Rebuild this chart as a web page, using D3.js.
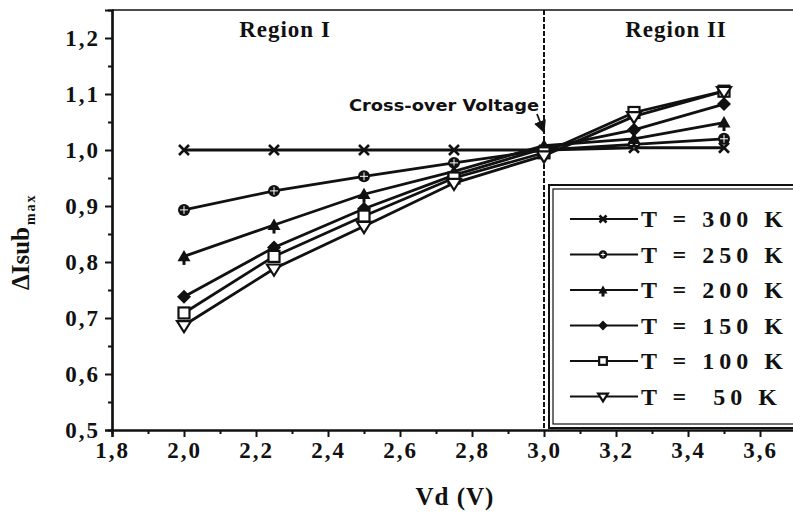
<!DOCTYPE html>
<html><head><meta charset="utf-8">
<script src="https://cdn.jsdelivr.net/npm/d3@7"></script>
<style>body{margin:0;background:#fff}svg{display:block}
.sf{font-family:"Liberation Serif","Times New Roman",Times,serif;font-weight:bold}
</style>
</head><body>
<svg id="c" width="793" height="516"></svg>
<script>
// ---- data ----
const vd = [2.0, 2.25, 2.5, 2.75, 3.0, 3.25, 3.5];
const t300 = [1.000, 1.000, 1.000, 1.000, 1.000, 1.004, 1.004];
const t250 = [0.893, 0.927, 0.953, 0.977, 1.000, 1.010, 1.020];
const t200 = [0.810, 0.866, 0.921, 0.962, 1.008, 1.020, 1.049];
const t150 = [0.738, 0.826, 0.895, 0.955, 1.003, 1.036, 1.082];
const t100 = [0.709, 0.810, 0.882, 0.950, 0.995, 1.067, 1.105];
const t50  = [0.687, 0.788, 0.864, 0.941, 0.990, 1.060, 1.105];
const seriesLabels = ["T = 300 K", "T = 250 K", "T = 200 K", "T = 150 K", "T = 100 K", "T =  50 K"];
const seriesValues = [t300, t250, t200, t150, t100, t50];
const markerTypes = ["x", "circleplus", "triup", "diamond", "square", "tridown"];
const xTicks = [1.8, 2.0, 2.2, 2.4, 2.6, 2.8, 3.0, 3.2, 3.4, 3.6];
const yTicks = [0.5, 0.6, 0.7, 0.8, 0.9, 1.0, 1.1, 1.2];

const svg = d3.select("#c");
const L = 112, R = 796, T = 10, B = 430;
const x = d3.scaleLinear().domain([1.8, 3.7]).range([L, R]);
const y = d3.scaleLinear().domain([0.5, 1.25]).range([B, T]);
const fmt = d => d.toFixed(1).replace(".", ",");

// frame top line
svg.append("line").attr("x1", L).attr("x2", R).attr("y1", T).attr("y2", T)
  .attr("stroke", "#111").attr("stroke-width", 1.5);

// axes
const xAxis = svg.append("g").attr("transform", `translate(0,${B})`)
  .call(d3.axisBottom(x).tickValues(xTicks).tickFormat(fmt).tickSize(7).tickPadding(5));
const xMinor = svg.append("g").attr("transform", `translate(0,${B})`)
  .call(d3.axisBottom(x).tickValues(d3.range(1.9, 3.7, 0.2)).tickFormat("").tickSize(4));
const yAxis = svg.append("g").attr("transform", `translate(${L},0)`)
  .call(d3.axisLeft(y).tickValues(yTicks).tickFormat(fmt).tickSize(7).tickPadding(5));
const yMinor = svg.append("g").attr("transform", `translate(${L},0)`)
  .call(d3.axisLeft(y).tickValues(d3.range(0.55, 1.25, 0.1)).tickFormat("").tickSize(4));
[xAxis, xMinor, yAxis, yMinor].forEach(g => {
  g.attr("font-family", null).attr("font-size", null);
  g.select(".domain").attr("stroke", "#111").attr("stroke-width", 2.2);
  g.selectAll(".tick line").attr("stroke", "#111").attr("stroke-width", 2);
  g.selectAll("text").attr("class", "sf").style("font-size", "23px")
    .attr("fill", "#111").attr("letter-spacing", 2);
});
xAxis.selectAll("text").attr("dy", "0.71em");
yAxis.selectAll("text").attr("dy", "0.34em");

// axis titles
svg.append("text").attr("class", "sf").attr("x", 455).attr("y", 505).attr("text-anchor", "middle")
  .style("font-size", "25px").attr("letter-spacing", 1)
  .attr("fill", "#111").text("Vd (V)");
const yl = svg.append("text").attr("class", "sf").attr("transform", "translate(29,290) rotate(-90)")
  .style("font-size", "25px").attr("fill", "#111");
yl.append("tspan").text("\u0394Isub");
yl.append("tspan").attr("dy", 6).attr("dx", 2).style("font-size", "14px").attr("letter-spacing", 2).text("max");

// dashed divider at 3.0
svg.append("line").attr("x1", x(3.0)).attr("x2", x(3.0)).attr("y1", T).attr("y2", B)
  .attr("stroke", "#111").attr("stroke-width", 2).attr("stroke-dasharray", "5,2");

// region labels
svg.append("text").attr("class", "sf").attr("x", 285).attr("y", 37).attr("text-anchor", "middle")
  .style("font-size", "23px").attr("letter-spacing", 1)
  .attr("fill", "#111").text("Region I");
svg.append("text").attr("class", "sf").attr("x", 676).attr("y", 37).attr("text-anchor", "middle")
  .style("font-size", "23px").attr("letter-spacing", 1)
  .attr("fill", "#111").text("Region II");

// marker drawing
function marker(g, type, cx, cy, s) {
  s = s || 1;
  const k = "#111";
  if (type === "x") {
    const a = 5 * s;
    g.append("path").attr("d", `M${cx-a},${cy-a}L${cx+a},${cy+a}M${cx-a},${cy+a}L${cx+a},${cy-a}`)
      .attr("stroke", k).attr("stroke-width", 2.6).attr("fill", "none");
  } else if (type === "circleplus") {
    const r = 6 * s;
    g.append("circle").attr("cx", cx).attr("cy", cy).attr("r", r).attr("fill", k);
    g.append("path").attr("d", `M${cx-r+2},${cy}L${cx+r-2},${cy}M${cx},${cy-r+2}L${cx},${cy+r-2}`)
      .attr("stroke", "#fff").attr("stroke-width", 1);
  } else if (type === "triup") {
    const a = 6.5 * s;
    g.append("path").attr("d", `M${cx},${cy-a}L${cx+a},${cy+a*0.75}L${cx-a},${cy+a*0.75}Z`).attr("fill", k);
    g.append("rect").attr("x", cx - 1.5).attr("y", cy).attr("width", 3).attr("height", a + 2).attr("fill", k);
  } else if (type === "diamond") {
    const a = 7 * s;
    g.append("path").attr("d", `M${cx},${cy-a}L${cx+a},${cy}L${cx},${cy+a}L${cx-a},${cy}Z`).attr("fill", k);
  } else if (type === "square") {
    const a = 5.5 * s;
    g.append("rect").attr("x", cx - a).attr("y", cy - a).attr("width", 2 * a).attr("height", 2 * a)
      .attr("fill", "#fff").attr("stroke", k).attr("stroke-width", 2.2);
  } else if (type === "tridown") {
    const a = 7 * s;
    g.append("path").attr("d", `M${cx-a},${cy-a*0.6}L${cx+a},${cy-a*0.6}L${cx},${cy+a}Z`)
      .attr("fill", "#fff").attr("stroke", k).attr("stroke-width", 2.2);
  }
}

// series lines
const line = d3.line().x((d, i) => x(vd[i])).y(d => y(d));
const gl = svg.append("g");
seriesValues.forEach(vals => {
  gl.append("path").attr("d", line(vals)).attr("fill", "none")
    .attr("stroke", "#111").attr("stroke-width", 2.8);
});
const gm = svg.append("g");
seriesValues.forEach((vals, si) => {
  vals.forEach((v, i) => marker(gm, markerTypes[si], x(vd[i]), y(v)));
});

// Cross-over annotation
svg.append("defs").append("marker").attr("id", "ah").attr("viewBox", "0 0 10 10")
  .attr("refX", 9).attr("refY", 5).attr("markerWidth", 7).attr("markerHeight", 7).attr("orient", "auto")
  .append("path").attr("d", "M0,0L10,5L0,10Z").attr("fill", "#111");
svg.append("text").attr("x", 349).attr("y", 111).attr("font-family", "'DejaVu Sans',sans-serif")
  .attr("font-weight", "bold").attr("font-size", 15.5).attr("fill", "#111")
  .attr("textLength", 190).attr("lengthAdjust", "spacingAndGlyphs").text("Cross-over Voltage");
svg.append("line").attr("x1", 537).attr("y1", 114).attr("x2", 544).attr("y2", 132)
  .attr("stroke", "#111").attr("stroke-width", 1.8).attr("marker-end", "url(#ah)");

// legend
const lg = svg.append("g");
lg.append("rect").attr("x", 549).attr("y", 185).attr("width", 260).attr("height", 243)
  .attr("fill", "#fff").attr("stroke", "#111").attr("stroke-width", 2);
lg.append("rect").attr("x", 553).attr("y", 189).attr("width", 260).attr("height", 235)
  .attr("fill", "none").attr("stroke", "#111").attr("stroke-width", 1.2);
seriesLabels.forEach((lab, i) => {
  const cy = 219 + i * 35.5;
  lg.append("line").attr("x1", 570).attr("x2", 638).attr("y1", cy).attr("y2", cy)
    .attr("stroke", "#111").attr("stroke-width", 2);
  marker(lg, markerTypes[i], 603, cy, 0.7);
  lg.append("text").attr("class", "sf").attr("x", 641).attr("y", cy + 8)
    .style("font-size", "24px").attr("letter-spacing", 5)
    .attr("fill", "#111").style("white-space", "pre").text(lab);
});
</script>
</body></html>
